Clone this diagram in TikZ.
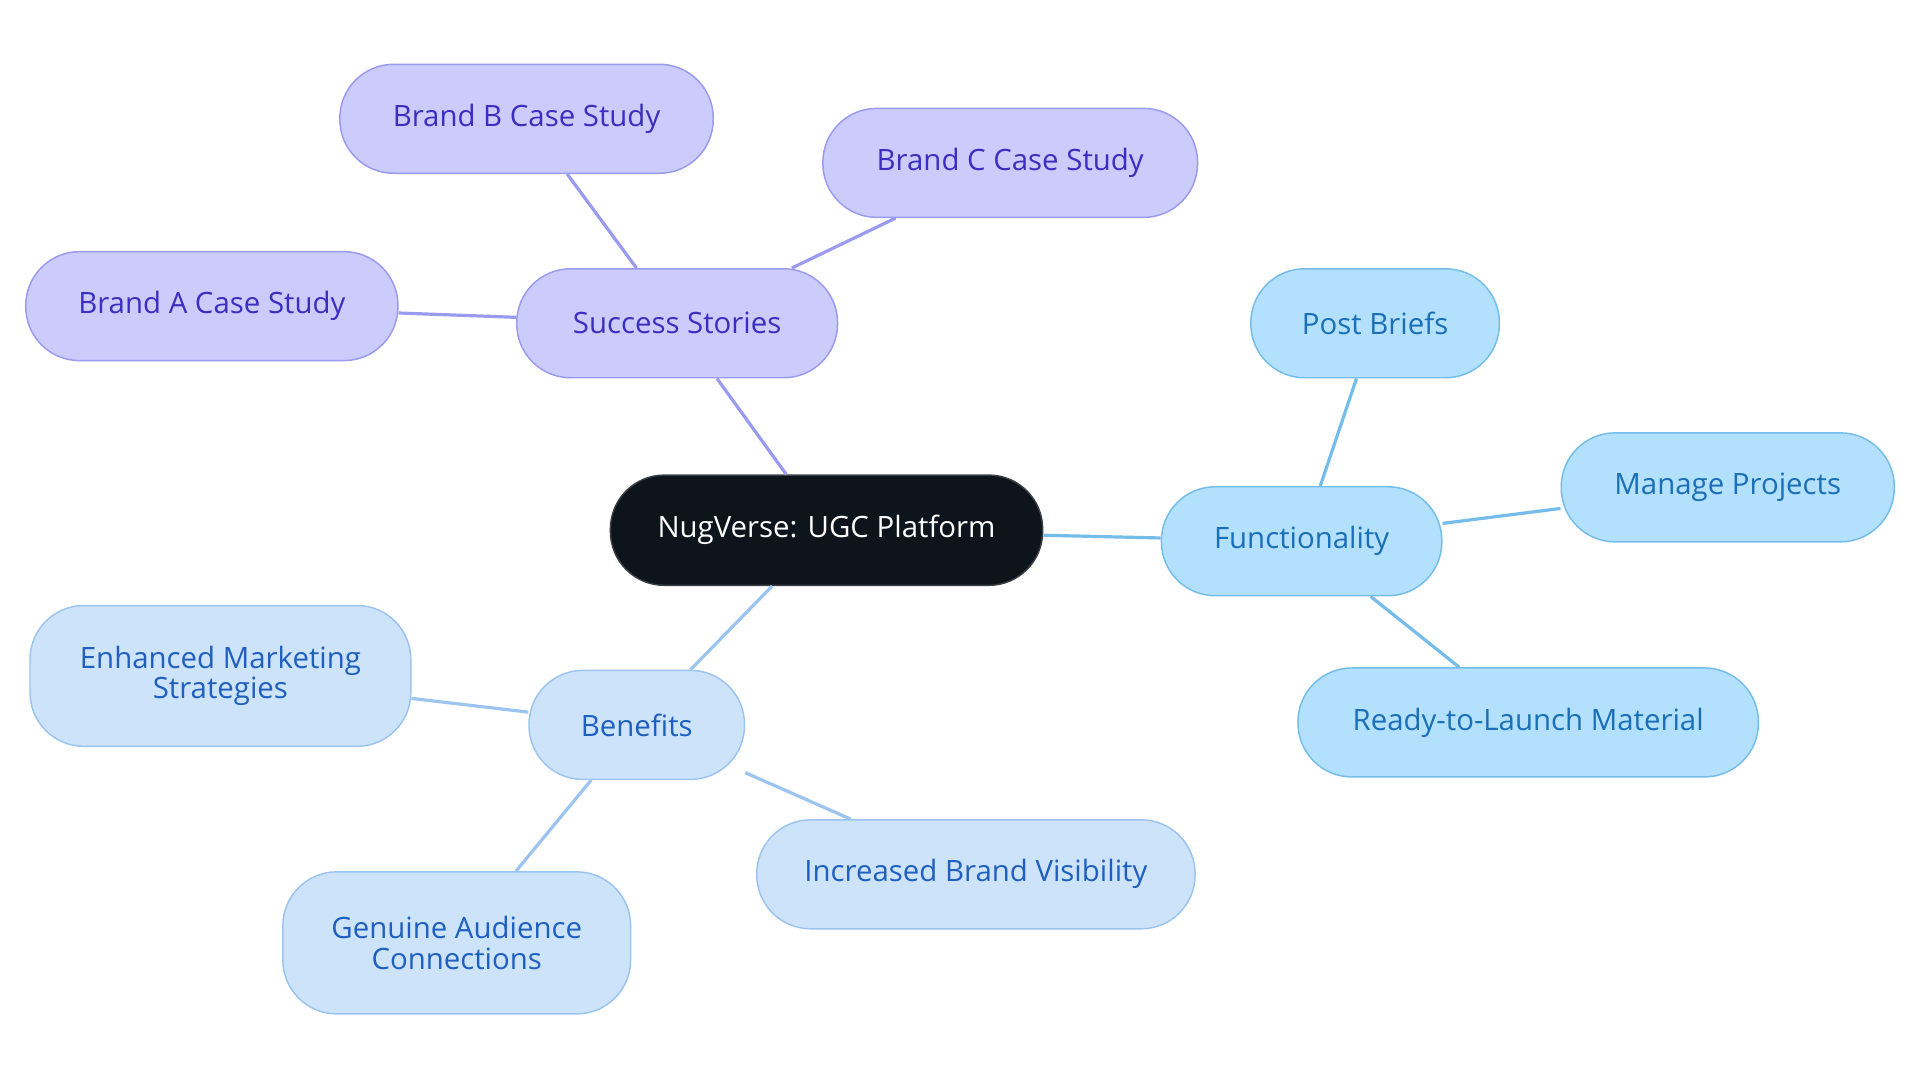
\documentclass[tikz,border=0pt]{standalone}
\usepackage{fontspec}
\setmainfont{Open Sans}
\begin{document}
\begin{tikzpicture}[x=0.5pt,y=-0.5pt,
 base/.style={rounded corners=22pt,draw,line width=0.6pt,align=center,font=\fontsize{12}{12.5}\selectfont,inner sep=0pt},
 cen/.style={base,fill=c0,draw=c0b,text=white,minimum width=176.5pt,minimum height=45pt},
 ss/.style={base,fill=c1,draw=c1b,text=c1t,minimum height=44.5pt},
 fn/.style={base,fill=c2,draw=c2b,text=c2t,minimum height=44.5pt},
 bn/.style={base,fill=c3,draw=c3b,text=c3t,minimum height=44.5pt},
 e1/.style={draw=c1b,line width=1.3pt},
 e2/.style={draw=c2b,line width=1.3pt},
 e3/.style={draw=c3b,line width=1.3pt}]
\definecolor{c0}{HTML}{0D141C}\definecolor{c0b}{HTML}{3A3F45}
\definecolor{c1}{HTML}{CBCBFC}\definecolor{c1b}{HTML}{9A9AF0}\definecolor{c1t}{HTML}{3A2FC0}
\definecolor{c2}{HTML}{B3E0FC}\definecolor{c2b}{HTML}{74BDEB}\definecolor{c2t}{HTML}{1A6FB8}
\definecolor{c3}{HTML}{CDE3FA}\definecolor{c3b}{HTML}{9CC4F0}\definecolor{c3t}{HTML}{1F5FBF}
\useasboundingbox[fill=white] (0,0) rectangle (1568,884);
\node[cen] (c) at (675,433) {NugVerse: UGC Platform};
\node[ss,minimum width=131pt] (s) at (553,264) {Success Stories};
\node[ss,minimum width=152.5pt] (sb) at (430,97) {Brand B Case Study};
\node[ss,minimum width=153pt] (sc) at (825,133) {Brand C Case Study};
\node[ss,minimum width=152pt] (sa) at (173,250) {Brand A Case Study};
\node[fn,minimum width=114.5pt] (f) at (1063,442) {Functionality};
\node[fn,minimum width=101.5pt] (fp) at (1123,264) {Post Briefs};
\node[fn,minimum width=136pt] (fm) at (1411,398) {Manage Projects};
\node[fn,minimum width=188pt] (fr) at (1248,590) {Ready-to-Launch Material};
\node[bn,minimum width=88pt] (b) at (520,592) {Benefits};
\node[bn,minimum width=155.5pt,minimum height=57.5pt] (be) at (180,552) {Enhanced Marketing\\Strategies};
\node[bn,minimum width=142pt,minimum height=58pt] (bg) at (373,770) {Genuine Audience\\Connections};
\node[bn,minimum width=179pt] (bi) at (797,714) {Increased Brand Visibility};
\draw[e1] (c) -- (s); \draw[e1] (s) -- (sb); \draw[e1] (s) -- (sc); \draw[e1] (s) -- (sa);
\draw[e2] (c) -- (f); \draw[e2] (f) -- (fp); \draw[e2] (f) -- (fm); \draw[e2] (f) -- (fr);
\draw[e3] (c) -- (b); \draw[e3] (b) -- (be); \draw[e3] (b) -- (bg); \draw[e3] (b) -- (bi);
\end{tikzpicture}
\end{document}
